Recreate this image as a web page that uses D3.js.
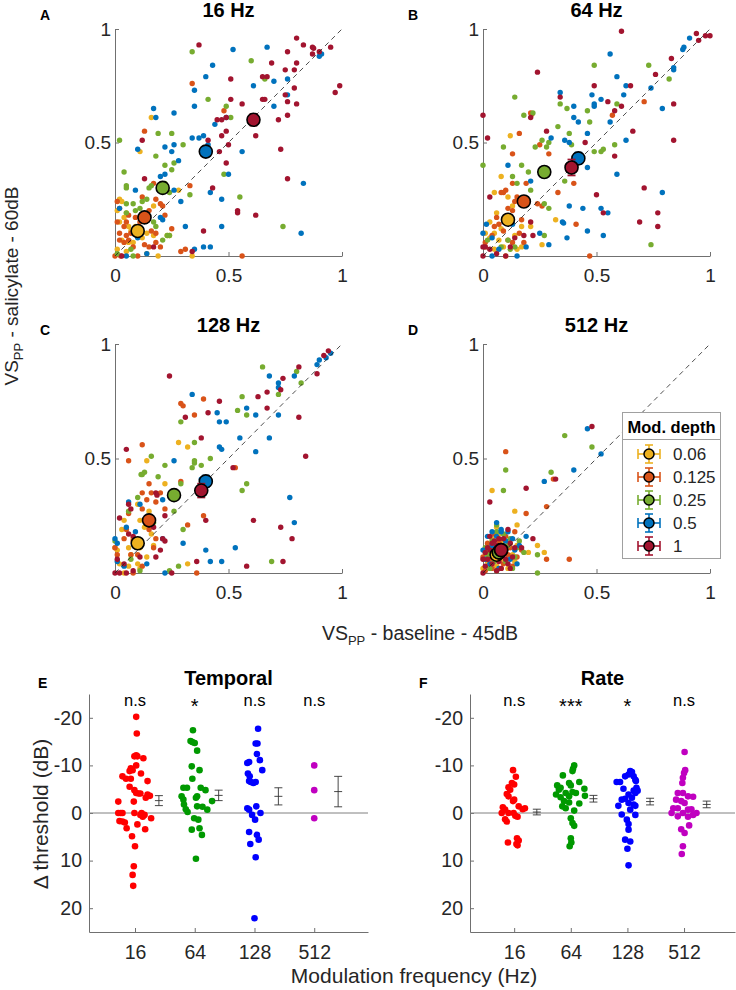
<!DOCTYPE html>
<meta charset="utf-8">
<body style="margin:0;background:#fff">
<div id="div-svg"></div>
<style>
  svg text { font-family: "Liberation Sans", Arial, Helvetica, sans-serif; }
</style>
<script src="https://d3js.org/d3.v7.min.js"></script>
<script>
var width = 736;
var height = 990;

// modulation depths (legend) and their colours
var depths = ["0.06", "0.125", "0.25", "0.5", "1"];
var depthColors = ["#EDB120", "#D95319", "#77AC30", "#0072BD", "#A2142F"];
var freqTitles = ["16 Hz", "64 Hz", "128 Hz", "512 Hz"];

// VS_PP pairs [baseline 45dB, salicylate 60dB], one list per depth
var pts16 = [
  [[.16,.61],[.11,.46],[.02,.25],[.03,.24],[.05,.19],[.17,.22],[.14,.17],[.04,.17],[.02,.15],[.07,.11],[.09,.13],[.14,.10],[.17,.09],[.23,.09],[.24,.09],[.28,.29],[.03,.07],[.06,.06],[.08,.06],[.12,.08],[.01,.03],[.05,.02],[.19,0],[.34,0],[.14,.01],[.10,.09],[.06,.13],[.01,.20]],
  [[.34,.76],[.48,.64],[.13,.55],[.17,.32],[.21,.29],[.33,.31],[.18,.25],[.20,.23],[.21,.22],[.01,.24],[.02,.21],[.06,.18],[.05,.15],[.04,.13],[.09,.17],[.11,.15],[.01,.15],[.02,.10],[.05,.09],[.07,.10],[.16,.11],[.18,.10],[.25,.12],[.02,.07],[.04,.06],[.06,.07],[.13,.05],[.15,.04],[.18,.06],[.20,.04],[.29,.02],[.31,.03],[0,0],[.10,0],[.56,0],[.025,0],[.08,.04],[.15,.20],[.22,.18],[.12,.26]],
  [[.34,.90],[.60,.86],[.66,.78],[.41,.69],[.49,.66],[.51,.61],[.02,.51],[.19,.54],[.25,.54],[.30,.49],[.18,.44],[.04,.37],[.22,.40],[.26,.41],[.25,.38],[.48,.36],[.05,.31],[.05,.30],[.15,.30],[.16,.31],[.22,.32],[.33,.27],[.55,.26],[.05,.23],[.08,.23],[.12,.24],[.14,.25],[.05,.19],[.09,.20],[.17,.15],[.18,.13],[.21,.07],[.23,.09],[.24,.09],[.74,.13],[.07,.03],[.08,0],[.01,.01],[.11,.21],[.24,.28]],
  [[.52,.91],[.67,.92],[.90,.88],[.91,.89],[.43,.84],[.40,.79],[.35,.73],[.35,.66],[.61,.75],[.70,.77],[.76,.78],[.76,.71],[.70,.66],[.17,.65],[.18,.61],[.26,.63],[.49,.61],[.44,.58],[.39,.53],[.37,.52],[.34,.52],[.41,.49],[.10,.47],[.22,.48],[.25,.46],[.26,.49],[.28,.42],[.56,.46],[.50,.36],[.20,.35],[.22,.36],[.26,.29],[.09,.29],[.29,.24],[.42,.28],[.47,.25],[.83,.32],[.02,.21],[.20,.17],[.21,.16],[.31,.13],[.47,.13],[.82,.10],[.10,.08],[.35,.03],[.39,.04],[.42,.04],[.05,0],[.14,.01]],
  [[.37,.93],[.80,.96],[.83,.93],[.87,.92],[.875,.915],[.90,.90],[.95,.92],[.87,.89],[.76,.90],[.80,.85],[.69,.85],[.75,.82],[.79,.82],[.51,.78],[.65,.79],[.67,.79],[.99,.75],[.97,.72],[.79,.74],[.75,.71],[.51,.69],[.56,.67],[.65,.69],[.66,.69],[.76,.68],[.80,.67],[.45,.60],[.47,.60],[.49,.61],[.72,.60],[.76,.62],[.47,.53],[.49,.55],[.62,.53],[.41,.51],[.12,.51],[.46,.46],[.50,.49],[.49,.41],[.73,.47],[.13,.34],[.43,.30],[.76,.34],[.54,.20],[.54,.19],[.62,.18],[.39,.11],[.34,.02],[.03,0],[.17,.04]]
];
var pts64 = [
  [[.12,.53],[.08,.35],[.05,.28],[.11,.26],[.13,.22],[.06,.19],[.11,.16],[.17,.13],[.21,.13],[.32,.16],[.01,.10],[.03,.08],[.05,.10],[.07,.07],[.09,.04],[.26,.05],[.01,.04],[.10,0],[.15,.03],[.17,.04],[.05,.03],[.08,.12],[.03,.15],[.14,.09]],
  [[.21,.63],[.215,.625],[.16,.54],[.13,.45],[.29,.45],[.25,.49],[.40,.32],[.33,.28],[.19,.32],[.08,.28],[.09,.28],[.10,.29],[.13,.32],[.15,.26],[.17,.25],[.14,.24],[.24,.23],[.26,.22],[.11,.21],[.13,.20],[.05,.13],[.07,.14],[.17,.16],[.41,.14],[.71,.68],[.57,.62],[.11,.07],[.13,.06],[.16,.10],[.01,.06],[.04,.09],[.47,0],[.18,.06],[.06,.17],[.09,.11]],
  [[.49,.84],[.73,.84],[.82,.78],[.14,.70],[.18,.62],[.22,.63],[.34,.67],[.37,.65],[.46,.64],[.47,.59],[.59,.67],[.33,.57],[.38,.54],[.26,.51],[.28,.48],[.29,.50],[.09,.48],[0,.40],[.17,.40],[.23,.48],[.39,.49],[.49,.46],[.52,.46],[.53,.47],[.58,.49],[.13,.35],[.15,.32],[.20,.37],[.21,.29],[.36,.33],[.27,.23],[.29,.21],[.27,.09],[.14,.04],[.12,.03],[.02,.07],[.74,.05],[.08,.04],[.11,.07]],
  [[.91,.96],[.88,.91],[.885,.92],[.56,.89],[.84,.83],[.84,.82],[.59,.79],[.63,.75],[.62,.71],[.74,.74],[.34,.72],[.48,.71],[.49,.67],[.49,.66],[.52,.69],[.40,.66],[.40,.61],[.42,.59],[.56,.59],[.79,.65],[.46,.54],[.30,.52],[.36,.51],[.38,.50],[.63,.51],[.11,.40],[.21,.33],[.46,.39],[.59,.36],[.79,.28],[.38,.22],[.44,.21],[.52,.21],[.55,.19],[.35,.15],[.355,.145],[.46,.11],[.53,.09],[.37,.08],[.25,.10],[.015,.14],[0,.10],[.04,.08],[.07,.03],[.04,0],[.15,0],[.19,.04],[.29,.05],[.13,.14]],
  [[.61,.99],[.94,.98],[.95,.95],[.98,.97],[1,.97],[.24,.81],[.83,.87],[.76,.80],[.49,.75],[.65,.75],[.55,.68],[.58,.64],[.61,.66],[.84,.67],[.66,.55],[.34,.70],[.21,.61],[0,.62],[.02,.52],[.84,.51],[.45,.50],[.58,.44],[.28,.55],[.71,.30],[.50,.27],[.53,.19],[.77,.19],[.77,.13],[.69,.15],[.03,.26],[.21,.15],[.14,.08],[.18,.09],[.22,.09],[0,.04],[.01,.04],[.03,.03],[0,0],[.10,0],[.06,.01],[.12,.04]]
];
var pts128 = [
  [[.28,.57],[.32,.55],[.14,.49],[.22,.39],[.10,.30],[.15,.27],[.04,.23],[.03,.19],[.11,.23],[.16,.17],[.17,.12],[0,.11],[.01,.10],[.06,.11],[.07,.08],[.11,.11],[.14,.07],[.32,.04],[.02,.04],[.06,.03],[.10,.04],[.11,.02],[.04,0],[.08,.15],[.13,.20]],
  [[.29,.74],[.30,.73],[.39,.76],[.35,.69],[.12,.56],[.06,.49],[.29,.40],[.15,.39],[.16,.35],[.12,.35],[.20,.35],[.18,.31],[.06,.26],[.12,.28],[.14,.32],[.53,.46],[.32,.21],[.39,.25],[.04,.15],[.08,.14],[.15,.19],[.18,.15],[0,.11],[.01,.08],[.07,.08],[.10,.08],[.17,.11],[.36,0],[.08,0],[.12,.03],[.22,.28],[.05,.19]],
  [[.65,.90],[.80,.88],[.82,.83],[.72,.78],[.56,.77],[.54,.71],[.58,.69],[.29,.66],[.35,.57],[.35,.49],[.35,.48],[.34,.46],[.38,.47],[.42,.50],[.16,.51],[.12,.43],[.13,.44],[.115,.43],[.19,.42],[.22,.47],[.29,.39],[.58,.39],[.56,.36],[.10,.33],[.06,.27],[.26,.27],[.30,.19],[0,.14],[.28,.03],[.24,.01],[.69,.05],[.11,.01],[.07,.06],[.17,.22]],
  [[.95,.96],[.93,.94],[.90,.93],[.89,.91],[.79,.86],[.72,.83],[.72,.81],[.68,.86],[.72,.69],[.58,.72],[.62,.69],[.45,.70],[.46,.66],[.49,.66],[.34,.78],[.55,.59],[.68,.59],[.62,.53],[.46,.55],[.47,.54],[.26,.49],[.21,.32],[.11,.30],[.06,.31],[.09,.18],[.05,.20],[.77,.33],[.79,.22],[0,.15],[.01,.13],[.30,.13],[.40,.10],[.53,.11],[.21,.15],[.42,.05],[.47,.05],[.01,.05],[.04,.03],[.22,0],[.14,.04],[.38,.41]],
  [[.94,.97],[.92,.95],[.89,.87],[.81,.90],[.74,.85],[.73,.80],[.67,.79],[.67,.72],[.63,.77],[.81,.68],[.46,.75],[.41,.70],[.31,.68],[.24,.86],[.38,.59],[.05,.54],[.84,.51],[.52,.46],[.18,.35],[.185,.34],[.22,.25],[.02,.24],[.06,.30],[.07,.28],[.15,.21],[.17,.20],[.40,.23],[.61,.23],[.73,.20],[.78,.15],[.21,.15],[.22,.14],[.06,.17],[.08,.16],[.18,.07],[.20,.10],[.01,.06],[.04,.04],[.36,.05],[.58,.03],[.74,.05],[0,0],[.02,0],[.05,0],[.08,.01],[.25,0],[.11,.07]]
];
var pts512 = [
  [[.04,.36],[.14,.27],[.15,.21],[.24,.12],[.27,.09],[.20,.09],[.10,.14],[0,.02],[.02,.05],[.03,.09],[.05,.12],[.06,.03],[.08,.06],[.10,.10],[.12,.13],[.04,.15],[.07,.17],[.02,.12],[.13,.08],[.11,.02],[.09,.14],[.15,.12],[.05,.07],[.01,.09],[.03,.03],[.14,.05],[.06,.20]],
  [[.10,.53],[.31,.41],[.28,.29],[.19,.26],[.38,.06],[.28,.06],[.14,.18],[.01,.01],[.03,.06],[.05,.10],[.07,.14],[.02,.13],[.09,.04],[.11,.08],[.04,.02],[.12,.11],[.06,.06],[.08,.12],[.10,.16],[.13,.03],[.15,.07],[0,.07],[.05,.17],[.17,.10],[.03,.11],[.08,.02]],
  [[.36,.60],[.48,.55],[.30,.44],[.10,.45],[.09,.36],[.06,.21],[.24,.08],[.24,0],[.15,.11],[.02,.08],[.04,.14],[.06,.18],[.08,.10],[.10,.05],[.12,.15],[.14,.07],[.03,.02],[.05,.05],[.07,.12],[.09,.17],[.11,.12],[.16,.14],[.18,.09],[.01,.11],[.13,.02],[.06,.01]],
  [[.46,.63],[.52,.52],[.40,.45],[.27,.40],[.19,.16],[.08,.18],[.06,.22],[0,.10],[.02,.16],[.04,.18],[.06,.16],[.08,.19],[.10,.14],[.12,.06],[.14,.10],[.03,.04],[.05,.08],[.07,.02],[.09,.11],[.16,.12],[.11,.18],[.01,.06],[.15,.04],[.04,.12],[.13,.15]],
  [[.48,.64],[.32,.41],[.19,.37],[.03,.31],[.22,.15],[.17,.11],[.11,.19],[.08,.11],[0,0],[.01,.03],[.02,.06],[.03,.10],[.04,.04],[.05,.08],[.06,.12],[.07,.05],[.08,.02],[.09,.08],[.10,.11],[.11,.04],[.12,.13],[.05,.14],[.03,.16],[.07,.15],[.02,.11],[.13,.07],[.14,.11],[.09,.15],[.06,.01],[0,.06],[.04,.13],[.10,.06],[.01,.09],[.12,.02]]
];
// depth means [x, y, xerr, yerr]
var means16 = [[.10,.11,.012,.012],[.13,.17,.015,.02],[.21,.30,.02,.02],[.40,.46,.015,.022],[.61,.60,.022,.025]];
var means64 = [[.11,.16,.015,.015],[.18,.24,.015,.02],[.27,.37,.015,.02],[.42,.43,.015,.025],[.39,.39,.025,.035]];
var means128 = [[.10,.13,.01,.015],[.15,.23,.015,.02],[.26,.34,.015,.015],[.40,.40,.02,.025],[.38,.36,.02,.03]];
var means512 = [[.06,.08,.01,.01],[.07,.09,.01,.01],[.07,.09,.01,.01],[.08,.10,.01,.01],[.08,.10,.01,.01]];

// threshold change per modulation frequency: [jitter, dB]
var freqCats = ["16", "64", "128", "512"];
var catColors = ["#FF0000", "#009900", "#0000FF", "#C000C0"];
var temporal = [
  [[.02,-20.2],[.03,-16.7],[-.01,-11.9],[.04,-11.9],[.02,-12.1],[.14,-11.5],[.02,-10],[-.07,-9.4],[-.04,-9],[-.09,-8.8],[-.21,-7.7],[-.15,-7.2],[-.07,-7.2],[.1,-8.3],[.21,-6.7],[-.09,-5.5],[-.01,-4.8],[.02,-4.2],[.06,-4.1],[.09,-4.1],[.21,-3.9],[.18,-3.2],[.25,-3.6],[-.02,-2.4],[-.28,-2.4],[-.28,0],[-.24,0],[-.21,0],[-.01,0],[.11,0],[.16,.4],[.13,.8],[.09,.4],[.27,1.1],[-.26,1.7],[-.21,1.8],[-.17,2],[-.14,3.2],[.04,2.4],[.17,3.4],[-.05,4.9],[0,7],[-.02,11.2],[-.04,13],[-.03,15.3]],
  [[-.03,-17.4],[-.07,-15.1],[-.04,-14.9],[0,-14.7],[.04,-13.1],[-.05,-9.8],[.08,-9],[-.04,-7.2],[-.19,-5.3],[-.13,-5.3],[.1,-5.3],[.18,-4.8],[-.22,-3.5],[-.19,-2.8],[.04,-3.5],[.02,-3.2],[.29,-2.5],[-.18,-1.8],[-.15,-.8],[.04,-1.4],[.13,-1.3],[.21,-.7],[-.12,-.2],[-.01,1.1],[.06,1.4],[-.05,3.5],[.08,3.2],[.12,4.6],[.02,9.6]],
  [[.06,-17.7],[.02,-14.6],[.05,-14.6],[.04,-12.4],[.09,-11.1],[-.12,-10.5],[-.09,-10.7],[.13,-9],[-.11,-8.3],[-.08,-7.7],[-.09,-6.7],[-.06,-6.5],[.02,-6.5],[-.02,-6.3],[.03,-1.4],[-.12,-1],[-.09,-.7],[.1,0],[-.04,.4],[.01,1.4],[-.09,4],[.04,4.6],[.07,5.6],[-.07,6.5],[.02,9.3],[0,22.1]],
  [[0,-10],[0,-4.8],[0,1.1]]
];
var rate = [
  [[-.02,-9],[.03,-7.6],[-.04,-6.3],[0,-6],[-.1,-5.4],[-.07,-4.9],[-.13,-4],[-.1,-3.5],[0,-2.8],[-.02,-2.5],[-.2,-1.2],[-.16,-.7],[.08,-1.4],[.15,-.8],[.19,-1],[-.22,0],[-.1,0],[-.01,0],[-.16,1.3],[-.13,1.8],[.02,.6],[.06,.8],[-.11,6.2],[.05,5.3],[.08,5.8],[.06,6.8],[.04,6.5]],
  [[.06,-10],[.04,-9.3],[.03,-8.8],[-.14,-7.9],[-.24,-5.8],[-.21,-4.9],[-.18,-5.3],[.15,-6.5],[-.03,-6.3],[0,-5.8],[-.09,-4.2],[-.03,-3.5],[.03,-4.4],[.09,-4.2],[.24,-5.1],[-.26,-3.9],[-.18,-3.3],[-.12,-2.5],[-.03,-2.2],[.15,-2],[.25,-3.6],[-.15,-1.4],[-.09,-1],[.06,-.5],[0,1.1],[.03,2.1],[.06,2.7],[0,5.3],[.01,6.2],[-.02,7]],
  [[.05,-8.8],[.08,-8.6],[.02,-8.1],[.11,-7.7],[-.04,-7.7],[.14,-7],[.15,-6.7],[-.19,-6.5],[-.13,-6.5],[-.07,-5.1],[.16,-5.3],[.11,-4.7],[.02,-3.9],[.08,-3.2],[.14,-4.2],[.18,-4.7],[-.1,-2.8],[-.04,-3],[.02,-2.1],[.11,-1.8],[-.16,-1.5],[.14,-1.5],[.05,-.7],[-.1,.3],[.14,.4],[-.01,1.4],[.02,2.3],[.02,3.5],[-.04,5.6],[.05,6],[0,7.5],[.02,11]],
  [[.01,-12.8],[.02,-9],[0,-8.4],[-.02,-7.4],[-.03,-6.3],[-.11,-4.2],[-.02,-4.2],[.07,-3.5],[.16,-3.4],[-.14,-2.8],[-.05,-2.5],[.01,-2.1],[-.19,-1],[-.11,-1],[.07,-.7],[.13,-.8],[-.02,0],[.22,0],[-.22,0],[-.11,.7],[.07,.8],[.16,.4],[.09,2.6],[-.05,3.4],[.01,4.2],[-.02,7],[-.04,8.6]]
];
var temporalMean = [-2.6, -3.7, -3.5, -4.5];
var temporalSem = [1.05, 1.1, 1.8, 3.2];
var rateMean = [-0.2, -3.0, -2.4, -1.8];
var rateSem = [0.6, 0.7, 0.7, 0.7];
var temporalSig = ["n.s", "*", "n.s", "n.s"];
var rateSig = ["n.s", "***", "*", "n.s"];

var svg = d3.select("#div-svg").append("svg")
    .attr("width", width)
    .attr("height", height);

var axisColor = "#707070";
var textColor = "#262626";

function styleAxis(sel, size) {
  sel.select(".domain").attr("stroke", axisColor);
  sel.selectAll(".tick line").attr("stroke", axisColor);
  sel.selectAll("text").attr("fill", textColor).attr("font-size", size);
}

function scatterPanel(pts, means, title, letter, x0, x1, y0, y1) {
  var x = d3.scaleLinear().domain([0, 1]).range([x0, x1]);
  var y = d3.scaleLinear().domain([0, 1]).range([y1, y0]);
  var g = svg.append("g");

  g.append("g").attr("transform", "translate(0," + y1 + ")")
    .call(d3.axisBottom(x).tickValues([0, 0.5, 1]).tickFormat(String)
      .tickSizeInner(-4).tickSizeOuter(0).tickPadding(13))
    .call(styleAxis, 19);
  g.append("g").attr("transform", "translate(" + x0 + ",0)")
    .call(d3.axisLeft(y).tickValues([0.5, 1]).tickFormat(String)
      .tickSizeInner(-4).tickSizeOuter(0).tickPadding(4))
    .call(styleAxis, 19);

  pts.forEach(function(set, i) {
    g.append("g").selectAll("circle")
      .data(set)
      .enter()
      .append("circle")
      .attr("cx", function(d) { return x(d[0]); })
      .attr("cy", function(d) { return y(d[1]); })
      .attr("r", 2.7)
      .attr("fill", depthColors[i]);
  });

  g.append("line")
    .attr("x1", x(0)).attr("y1", y(0)).attr("x2", x(1)).attr("y2", y(1))
    .attr("stroke", "#222").attr("stroke-width", 0.8).attr("stroke-dasharray", "5,4");

  means.forEach(function(m, i) {
    var c = depthColors[i], cx = x(m[0]), cy = y(m[1]);
    var xl = x(m[0] - m[2]), xr = x(m[0] + m[2]);
    var yt = y(m[1] + m[3]), yb = y(m[1] - m[3]);
    var eb = g.append("g").attr("stroke", c).attr("stroke-width", 1.8);
    eb.append("line").attr("x1", xl).attr("x2", xr).attr("y1", cy).attr("y2", cy);
    eb.append("line").attr("x1", xl).attr("x2", xl).attr("y1", cy - 4).attr("y2", cy + 4);
    eb.append("line").attr("x1", xr).attr("x2", xr).attr("y1", cy - 4).attr("y2", cy + 4);
    eb.append("line").attr("x1", cx).attr("x2", cx).attr("y1", yt).attr("y2", yb);
    eb.append("line").attr("x1", cx - 4).attr("x2", cx + 4).attr("y1", yt).attr("y2", yt);
    eb.append("line").attr("x1", cx - 4).attr("x2", cx + 4).attr("y1", yb).attr("y2", yb);
    g.append("circle").attr("cx", cx).attr("cy", cy).attr("r", 6.5)
      .attr("fill", c).attr("stroke", "#000").attr("stroke-width", 1.6);
  });

  g.append("text").attr("x", (x0 + x1) / 2).attr("y", y0 - 12)
    .attr("text-anchor", "middle").attr("font-size", 20).attr("font-weight", "bold")
    .attr("fill", "#000").text(title);
  g.append("text").attr("x", x0 - 75).attr("y", y0 - 9)
    .attr("font-size", 14).attr("font-weight", "bold").attr("fill", "#000").text(letter);
}

scatterPanel(pts16, means16, freqTitles[0], "A", 115, 342, 29, 256);
scatterPanel(pts64, means64, freqTitles[1], "B", 483, 710, 29, 256);
scatterPanel(pts128, means128, freqTitles[2], "C", 115, 342, 344, 573);
scatterPanel(pts512, means512, freqTitles[3], "D", 483, 710, 344, 573);

// legend
var lg = svg.append("g");
lg.append("rect").attr("x", 622.5).attr("y", 412.5).attr("width", 98).attr("height", 146)
  .attr("fill", "#fff").attr("stroke", "#a0a0a0");
lg.append("line").attr("x1", 622.5).attr("x2", 720.5).attr("y1", 439.5).attr("y2", 439.5)
  .attr("stroke", "#a0a0a0");
lg.append("text").attr("x", 671.5).attr("y", 433).attr("text-anchor", "middle")
  .attr("font-size", 16.5).attr("font-weight", "bold").attr("fill", "#000").text("Mod. depth");
depths.forEach(function(dp, i) {
  var cy = 454 + i * 23, cx = 649, c = depthColors[i];
  var e = lg.append("g").attr("stroke", c).attr("stroke-width", 1.6);
  e.append("line").attr("x1", cx - 11).attr("x2", cx + 11).attr("y1", cy).attr("y2", cy);
  e.append("line").attr("x1", cx - 11).attr("x2", cx - 11).attr("y1", cy - 5).attr("y2", cy + 5);
  e.append("line").attr("x1", cx + 11).attr("x2", cx + 11).attr("y1", cy - 5).attr("y2", cy + 5);
  e.append("line").attr("x1", cx).attr("x2", cx).attr("y1", cy - 9).attr("y2", cy + 9);
  e.append("line").attr("x1", cx - 4).attr("x2", cx + 4).attr("y1", cy - 9).attr("y2", cy - 9);
  e.append("line").attr("x1", cx - 4).attr("x2", cx + 4).attr("y1", cy + 9).attr("y2", cy + 9);
  lg.append("circle").attr("cx", cx).attr("cy", cy).attr("r", 5)
    .attr("fill", c).attr("stroke", "#000").attr("stroke-width", 1.5);
  lg.append("text").attr("x", 673).attr("y", cy + 6).attr("font-size", 17)
    .attr("fill", textColor).text(dp);
});

// shared axis labels of the scatter panels
var ylab = svg.append("text").attr("transform", "translate(18,286) rotate(-90)")
  .attr("text-anchor", "middle").attr("font-size", 19).attr("fill", textColor);
ylab.append("tspan").text("VS");
ylab.append("tspan").attr("font-size", 13).attr("dy", 5).text("PP");
ylab.append("tspan").attr("dy", -5).text(" - salicylate - 60dB");

var xlab = svg.append("text").attr("x", 420).attr("y", 640)
  .attr("text-anchor", "middle").attr("font-size", 19.5).attr("fill", textColor);
xlab.append("tspan").text("VS");
xlab.append("tspan").attr("font-size", 13).attr("dy", 5).text("PP");
xlab.append("tspan").attr("dy", -5).text(" - baseline - 45dB");

function swarmPanel(groups, mean, sem, sig, title, letter, x0, x1, xmin, xmax) {
  var x = d3.scaleLinear().domain([xmin, xmax]).range([x0, x1]);
  var y = d3.scaleLinear().domain([-25, 25]).range([694, 932]);
  var g = svg.append("g");

  g.append("g").attr("transform", "translate(0,932)")
    .call(d3.axisBottom(x).tickValues([1, 2, 3, 4]).tickFormat(function(d, i) { return freqCats[i]; })
      .tickSizeInner(-4).tickSizeOuter(0).tickPadding(13))
    .call(styleAxis, 19.5);
  g.append("g").attr("transform", "translate(" + x0 + ",0)")
    .call(d3.axisLeft(y).tickValues([-20, -10, 0, 10, 20]).tickFormat(String)
      .tickSizeInner(-4).tickSizeOuter(0).tickPadding(7))
    .call(styleAxis, 19.5);

  g.append("line").attr("x1", x0).attr("x2", x1).attr("y1", y(0)).attr("y2", y(0))
    .attr("stroke", "#808080").attr("stroke-width", 1);

  groups.forEach(function(set, i) {
    g.append("g").selectAll("circle")
      .data(set)
      .enter()
      .append("circle")
      .attr("cx", function(d) { return x(i + 1 + d[0]); })
      .attr("cy", function(d) { return y(d[1]); })
      .attr("r", 3.3)
      .attr("fill", catColors[i]);

    var ex = x(i + 1.4), yt = y(mean[i] - sem[i]), yb = y(mean[i] + sem[i]), ym = y(mean[i]);
    var e = g.append("g").attr("stroke", "#333").attr("stroke-width", 0.9);
    e.append("line").attr("x1", ex).attr("x2", ex).attr("y1", yt).attr("y2", yb);
    [yt, ym, yb].forEach(function(v) {
      e.append("line").attr("x1", ex - 4).attr("x2", ex + 4).attr("y1", v).attr("y2", v);
    });

    g.append("text").attr("x", x(i + 1)).attr("y", sig[i] === "n.s" ? 706 : 713)
      .attr("text-anchor", "middle").attr("font-size", sig[i] === "n.s" ? 16.5 : 20)
      .attr("fill", "#000").text(sig[i]);
  });

  g.append("text").attr("x", (x0 + x1) / 2).attr("y", 685)
    .attr("text-anchor", "middle").attr("font-size", 20).attr("font-weight", "bold")
    .attr("fill", "#000").text(title);
  g.append("text").attr("x", x0 - 51).attr("y", 688)
    .attr("font-size", 14).attr("font-weight", "bold").attr("fill", "#000").text(letter);
}

swarmPanel(temporal, temporalMean, temporalSem, temporalSig, "Temporal", "E", 89, 368, 0.23, 4.9);
swarmPanel(rate, rateMean, rateSem, rateSig, "Rate", "F", 470, 735, 0.22, 4.9);

svg.append("text").attr("transform", "translate(48,814) rotate(-90)")
  .attr("text-anchor", "middle").attr("font-size", 21).attr("fill", textColor)
  .text("\u0394 threshold (dB)");
svg.append("text").attr("x", 414).attr("y", 983)
  .attr("text-anchor", "middle").attr("font-size", 21).attr("fill", textColor)
  .text("Modulation frequency (Hz)");
</script>
</body>
